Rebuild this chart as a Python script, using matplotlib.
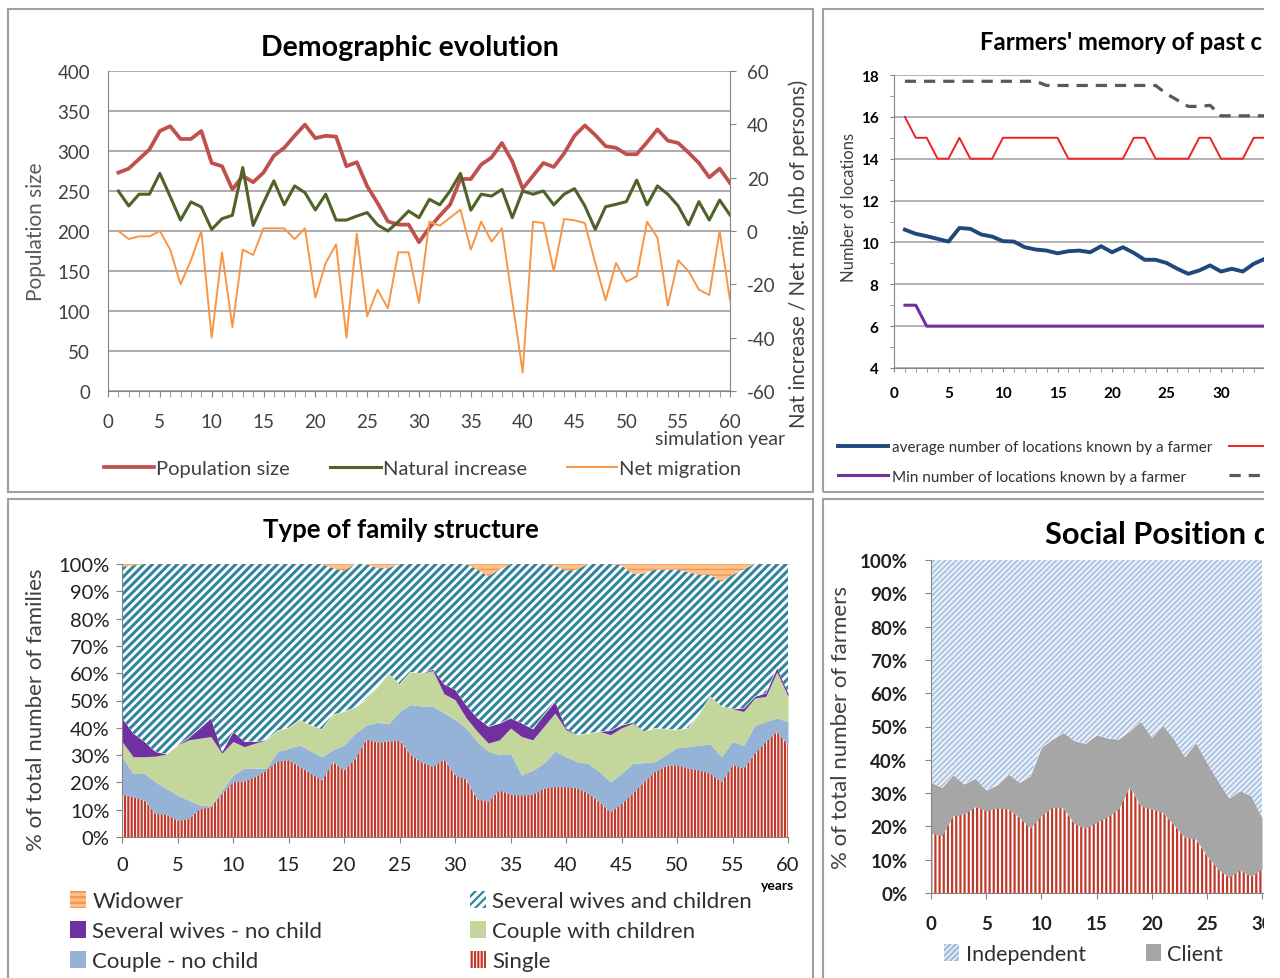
import numpy as np
import matplotlib
matplotlib.use("Agg")
import matplotlib.pyplot as plt
from matplotlib.patches import Rectangle, Patch

plt.rcParams['font.family'] = ['Lato', 'DejaVu Sans']
plt.rcParams['hatch.linewidth'] = 1.6
plt.rcParams['axes.unicode_minus'] = False

# ---------------- data ----------------
# Demographic evolution (simulation years 1..60)
pop_size = [273, 278, 290, 302, 325, 331, 315, 315, 325, 285,
            281, 252, 269, 261, 273, 294, 304, 319, 333, 316,
            319, 318, 281, 286, 256, 235, 212, 208, 208, 186,
            204, 219, 233, 265, 265, 283, 292, 310, 287, 253,
            269, 285, 280, 297, 319, 332, 320, 306, 304, 296,
            296, 311, 327, 313, 310, 298, 285, 267, 278, 260]
nat_increase = [15, 9.4, 13.8, 13.8, 21.6, 12.9, 4.1, 10.9, 9, 0.6,
                4.6, 5.9, 23.8, 2.1, 10.6, 18.8, 9.8, 16.9, 14.4, 7.9,
                13.8, 4.1, 4.1, 5.6, 6.9, 2.3, 0, 3.5, 7.5, 5,
                11.9, 9.8, 15, 21.6, 7.8, 13.8, 13.1, 15.6, 5, 15,
                13.8, 15, 9.8, 13.8, 15.9, 9.4, 0.6, 9.1, 10, 11,
                19.1, 9.8, 16.9, 13.8, 9.4, 2.3, 11, 4.1, 11.6, 6]
net_migration = [0, -3, -2, -2, 0, -7, -20, -11, 0, -40,
                 -8, -36, -7, -9, 1, 1, 1, -3, 1, -25,
                 -12, -5, -40, -1, -32, -22, -29, -8, -8, -27,
                 3.5, 2, 5, 8, -7, 3.5, -4, 1, -26, -53,
                 3.5, 3, -15, 4.5, 4, 3, -12, -26, -12, -19,
                 -17, 3.5, -2.5, -28, -11, -15, -22, -24, 0, -26]

# Farmers' memory (visible years 1..34)
mem_avg = [10.61, 10.41, 10.30, 10.17, 10.04, 10.69, 10.65, 10.38, 10.28, 10.06,
           10.04, 9.77, 9.66, 9.61, 9.48, 9.58, 9.61, 9.53, 9.82, 9.53,
           9.77, 9.50, 9.17, 9.17, 9.02, 8.74, 8.50, 8.66, 8.90, 8.61,
           8.74, 8.61, 8.98, 9.21]
mem_red = [16, 15, 15, 14, 14, 15, 14, 14, 14, 15,
           15, 15, 15, 15, 15, 14, 14, 14, 14, 14,
           14, 15, 15, 14, 14, 14, 14, 15, 15, 14,
           14, 14, 15, 15]
mem_min = [7, 7, 6, 6, 6, 6, 6, 6, 6, 6,
           6, 6, 6, 6, 6, 6, 6, 6, 6, 6,
           6, 6, 6, 6, 6, 6, 6, 6, 6, 6,
           6, 6, 6, 6]
mem_dash = [17.7, 17.7, 17.7, 17.7, 17.7, 17.7, 17.7, 17.7, 17.7, 17.7,
            17.7, 17.7, 17.7, 17.5, 17.5, 17.5, 17.5, 17.5, 17.5, 17.5,
            17.5, 17.5, 17.5, 17.5, 17.1, 16.8, 16.5, 16.5, 16.55, 16.05,
            16.05, 16.05, 16.05, 16.05]

# Type of family structure, % (years 0..60)
single = [15.6, 14.7, 13.5, 8.6, 8.2, 6.1, 6.7, 10.4, 11.0, 16.0,
          20.2, 20.4, 22.1, 24.5, 27.8, 28.2, 25.8, 23.3, 20.9, 27.6,
          24.5, 28.8, 35.8, 34.7, 35.0, 35.5, 30.1, 27.4, 25.8, 28.6,
          22.7, 21.2, 13.9, 13.1, 17.2, 15.6, 15.3, 15.6, 17.8, 18.4,
          18.4, 18.0, 16.0, 12.9, 9.2, 12.3, 16.0, 20.2, 23.9, 26.1,
          26.4, 25.2, 24.5, 23.3, 20.2, 26.4, 25.2, 30.7, 35.0, 38.7, 33.7]
couple_no_child = [13.8, 8.6, 9.8, 11.6, 9.6, 9.2, 6.8, 1.3, 0.4, 1.0,
                   2.5, 4.8, 3.1, 0.7, 3.5, 4.3, 7.9, 8.2, 8.5, 4.4,
                   9.2, 9.2, 5.2, 7.3, 6.5, 10.5, 18.4, 20.6, 22.1, 16.9,
                   20.3, 18.7, 21.1, 18.2, 12.9, 15.0, 7.4, 8.9, 9.2, 13.1,
                   11.0, 9.6, 11.0, 11.0, 11.0, 11.0, 11.0, 7.0, 3.7, 4.0,
                   6.4, 7.9, 9.2, 10.7, 9.2, 8.6, 8.3, 10.2, 7.3, 4.9, 8.6]
couple_children = [5.6, 6.1, 6.1, 9.4, 12.6, 18.4, 22.1, 24.5, 25.4, 13.7,
                   12.3, 7.9, 9.2, 10.4, 7.7, 7.5, 9.3, 9.5, 10.1, 12.8,
                   12.3, 9.5, 9.5, 13.0, 18.5, 10.0, 12.0, 12.0, 13.1, 7.0,
                   7.3, 3.8, 3.7, 3.1, 5.5, 9.3, 14.1, 11.1, 13.5, 13.9,
                   9.9, 9.8, 11.0, 14.8, 17.3, 16.7, 14.7, 11.5, 12.3, 9.5,
                   6.5, 6.8, 11.7, 17.5, 18.5, 12.0, 12.5, 10.0, 9.2, 16.9, 9.2]
wives_no_child = [8.6, 8.6, 5.6, 1.7, 0, 0, 0.8, 3.7, 6.8, 0.6,
                  3.6, 1.9, 0.6, 0, 0, 0, 0, 0, 0, 0,
                  0, 0, 0, 0, 0, 0, 0, 0, 0.5, 3.5,
                  3.7, 4.6, 4.9, 6.1, 6.1, 3.7, 4.9, 4.0, 4.3, 4.3,
                  0.6, 0, 0, 0, 1.5, 1.0, 0.3, 0, 0, 0,
                  0, 0, 0, 0, 0, 0, 1.2, 0.6, 1.3, 1.5, 1.3]
wives_children = [55.4, 61.5, 65.0, 68.7, 69.6, 66.3, 63.6, 60.1, 56.4, 68.7,
                  61.4, 65.0, 65.0, 64.4, 61.0, 60.0, 57.0, 59.0, 60.5, 53.7,
                  51.5, 52.5, 49.5, 43.5, 38.5, 44.0, 39.5, 40.0, 38.5, 44.0,
                  46.0, 51.7, 54.4, 55.0, 56.3, 56.4, 58.3, 60.4, 55.2, 49.8,
                  57.6, 60.6, 62.0, 61.3, 61.0, 58.5, 54.5, 57.8, 58.1, 58.4,
                  58.7, 57.1, 50.6, 44.5, 45.6, 49.0, 50.8, 48.5, 47.2, 38.0, 47.2]
widower = [1.0, 0.5, 0, 0, 0, 0, 0, 0, 0, 0,
           0, 0, 0, 0, 0, 0, 0, 0, 0, 1.5,
           2.5, 0, 0, 1.5, 1.5, 0, 0, 0, 0, 0,
           0, 0, 2.0, 4.5, 2.0, 0, 0, 0, 0, 0.5,
           2.5, 2.0, 0, 0, 0, 0.5, 3.5, 3.5, 2.0, 2.0,
           2.0, 3.0, 4.0, 4.0, 6.5, 4.0, 2.0, 0, 0, 0, 0]

# Social position, % (visible years 0..30)
social_red = [18.0, 17.2, 23.2, 23.7, 25.9, 24.7, 25.5, 25.2, 22.7, 19.5,
              23.2, 25.7, 25.5, 20.7, 19.5, 21.2, 22.9, 25.2, 31.9, 26.2,
              25.2, 24.2, 20.5, 16.7, 16.2, 11.2, 7.2, 4.7, 6.9, 5.0, 7.2]
client = [15.2, 14.5, 12.3, 9.0, 8.6, 6.2, 7.0, 10.5, 10.5, 15.7,
          20.5, 20.5, 22.7, 25.0, 25.4, 26.3, 23.6, 21.0, 16.8, 25.3,
          21.5, 26.3, 25.7, 24.2, 29.0, 28.0, 26.5, 23.8, 23.8, 24.2, 15.5]
independent = [66.8, 68.3, 64.5, 67.3, 65.5, 69.1, 67.5, 64.3, 66.8, 64.8,
               56.3, 53.8, 51.8, 54.3, 55.1, 52.5, 53.5, 53.8, 51.3, 48.5,
               53.3, 49.5, 53.8, 59.1, 54.8, 60.8, 66.3, 71.5, 69.3, 70.8, 77.3]

W, H = 1280, 979
GRID = '#a6a6a6'
AXC = '#868686'
TXT = '#404040'
CUT_X = 1264  # the source picture stops here

fig = plt.figure(figsize=(W / 100, H / 100), dpi=100)


def frame(x0, y0, x1, y1):
    fig.add_artist(Rectangle((x0 / W, 1 - y1 / H), (x1 - x0) / W, (y1 - y0) / H,
                             transform=fig.transFigure, fill=False,
                             edgecolor='#a0a0a0', linewidth=1.5, zorder=0))


frame(8, 10, 813, 493)
frame(823, 10, 1700, 493)
frame(8, 500, 813, 1010)
frame(823, 500, 1700, 1010)


def style_axes(ax):
    for s in ['top', 'right']:
        ax.spines[s].set_visible(False)
    for s in ['left', 'bottom']:
        ax.spines[s].set_color(AXC)
    ax.tick_params(which='both', color=AXC, direction='out')


def visible_labels(ticks, last):
    return [str(v) if v <= last else '' for v in ticks]


# ---------- panel 1: demographic evolution ----------
ax1 = fig.add_axes([108 / W, 1 - 392 / H, 622 / W, 320 / H])
yrs = np.arange(1, 61)
style_axes(ax1)
ax1.set_xlim(0, 60)
ax1.set_ylim(0, 400)
ax1.set_yticks(range(0, 401, 50))
ax1.set_xticks(range(0, 61, 5))
ax1.set_xticks(range(0, 61), minor=True)
ax1.yaxis.grid(True, color=GRID, linewidth=1.3)
ax1.set_axisbelow(True)
ax1.tick_params(axis='both', labelsize=13.5, labelcolor=TXT, length=4)
ax1.tick_params(axis='x', which='minor', length=4)
ax1.tick_params(axis='x', pad=12)
ax1.tick_params(axis='y', length=0, pad=13)
l_pop, = ax1.plot(yrs, pop_size, color='#c0504d', linewidth=2.7)
ax1.set_ylabel('Population size', fontsize=15, color='#595959', labelpad=8)

ax1b = ax1.twinx()
ax1b.set_ylim(-60, 60)
ax1b.set_yticks(range(-60, 61, 20))
for s in ['top', 'left', 'bottom']:
    ax1b.spines[s].set_visible(False)
ax1b.spines['right'].set_color(AXC)
ax1b.tick_params(axis='y', labelsize=13.5, labelcolor=TXT, color=AXC, length=4, pad=8)
l_nat, = ax1b.plot(yrs, nat_increase, color='#4f6228', linewidth=2.2)
l_mig, = ax1b.plot(yrs, net_migration, color='#f79646', linewidth=1.4)
ax1b.set_ylabel('Nat increase / Net mig. (nb of persons)', fontsize=14.8,
                color='#404040')
ax1b.yaxis.set_label_coords(1.094, 0.43)

fig.text(410 / W, 1 - 48 / H, 'Demographic evolution', ha='center', va='center',
         fontsize=20.5, fontweight='bold')
fig.text(785 / W, 1 - 440 / H, 'simulation year', ha='right', va='center',
         fontsize=14, color=TXT)
fig.legend([l_pop, l_nat, l_mig], ['Population size', 'Natural increase', 'Net migration'],
           loc='center left', bbox_to_anchor=(104 / W, 1 - 469 / H), ncol=3, frameon=False,
           fontsize=14.5, handlelength=2.5, handletextpad=0.1, columnspacing=2.0,
           borderpad=0, borderaxespad=0, labelcolor=TXT)

# ---------- panel 2: farmers' memory ----------
ax2 = fig.add_axes([894 / W, 1 - 369 / H, 654 / W, 293 / H])
yrs2 = np.arange(1, len(mem_avg) + 1)
style_axes(ax2)
ax2.set_xlim(0, 60)
ax2.set_ylim(4, 18)
ax2.set_yticks(range(4, 19, 2))
ax2.set_yticks(range(5, 18, 2), minor=True)
ax2.set_xticks(range(0, 61, 5), labels=visible_labels(range(0, 61, 5), 30))
ax2.set_xticks(range(0, 61), minor=True)
ax2.yaxis.grid(True, color=GRID, linewidth=1.2)
ax2.set_axisbelow(True)
ax2.tick_params(axis='both', which='both', length=3)
ax2.tick_params(axis='both', labelsize=11)
for lab in ax2.get_xticklabels() + ax2.get_yticklabels():
    lab.set_fontweight('bold')
ax2.tick_params(axis='y', pad=8)
ax2.tick_params(axis='x', pad=10)
ax2.set_ylabel('Number of locations', fontsize=12, color='#404040')
ax2.yaxis.set_label_coords(-0.057, 0.55)

l_dash, = ax2.plot(yrs2, mem_dash, color='#595959', linewidth=2.3, dashes=(3.5, 2.5))
l_red, = ax2.plot(yrs2, mem_red, color='#ee2222', linewidth=1.4)
l_avg, = ax2.plot(yrs2, mem_avg, color='#1f497d', linewidth=2.8)
l_min, = ax2.plot(yrs2, mem_min, color='#7030a0', linewidth=2.2)

fig.text(980 / W, 1 - 42 / H, "Farmers' memory of past c", ha='left', va='center',
         fontsize=17.2, fontweight='bold')
fig.legend([l_avg, l_min, l_red, l_dash],
           ['average number of locations known by a farmer',
            'Min number of locations known by a farmer', '', ''],
           loc='center left', bbox_to_anchor=(838 / W, 1 - 463 / H), ncol=2,
           frameon=False, fontsize=11, handlelength=3.3, handletextpad=0.25,
           columnspacing=1.1, labelspacing=1.0, borderpad=0, borderaxespad=0,
           labelcolor='#303030')

# ---------- panel 3: family structure ----------
ax3 = fig.add_axes([122 / W, 1 - 838 / H, 666 / W, 273 / H])
yrs3 = np.arange(0, 61)
style_axes(ax3)
ax3.set_xlim(0, 60)
ax3.set_ylim(0, 100)
ax3.set_yticks(range(0, 101, 10))
ax3.set_yticklabels([f'{v}%' for v in range(0, 101, 10)])
ax3.set_xticks(range(0, 61, 5))
ax3.tick_params(axis='both', labelsize=14.5, labelcolor='#202020', length=4)
ax3.tick_params(axis='x', pad=10)
ax3.tick_params(axis='y', pad=5)

layers3 = [
    (single, 'Single', 'white', '#c0392b', '|||||', 1.6),
    (couple_no_child, 'Couple - no child', '#95b3d7', '#95b3d7', None, 1.6),
    (couple_children, 'Couple with children', '#c3d69b', '#c3d69b', None, 1.6),
    (wives_no_child, 'Several wives - no child', '#7030a0', '#7030a0', None, 1.6),
    (wives_children, 'Several wives and children', 'white', '#31849b', '////', 2.2),
    (widower, 'Widower', '#fac090', '#f79646', '---', 1.0),
]
base = np.zeros(len(yrs3))
handles3 = {}
for vals, name, fc, ec, hatch, hlw in layers3:
    top = base + np.array(vals)
    with plt.rc_context({'hatch.linewidth': hlw}):
        ax3.fill_between(yrs3, base, top, facecolor=fc, edgecolor=ec, hatch=hatch,
                         linewidth=0)
        handles3[name] = Patch(facecolor=fc, edgecolor=ec, hatch=hatch, linewidth=0)
    base = top
ax3.set_ylabel('% of total number of families', fontsize=16, color='#404040')
ax3.yaxis.set_label_coords(-0.114, 0.47)

fig.text(401 / W, 1 - 530 / H, 'Type of family structure', ha='center', va='center',
         fontsize=18.5, fontweight='bold')
fig.text(778 / W, 1 - 886 / H, 'years', ha='center', va='center', fontsize=10,
         fontweight='bold')
order3 = ['Widower', 'Several wives - no child', 'Couple - no child',
          'Several wives and children', 'Couple with children', 'Single']
fig.legend([handles3[n] for n in order3], order3, loc='center left',
           bbox_to_anchor=(70 / W, 1 - 932 / H), ncol=2, frameon=False,
           fontsize=16, handlelength=0.7, handleheight=0.8, handletextpad=0.3,
           columnspacing=6.65, labelspacing=0.45, borderpad=0, borderaxespad=0,
           labelcolor='#303030')

# ---------- panel 4: social position ----------
ax4 = fig.add_axes([931 / W, 1 - 894 / H, 662 / W, 333 / H])
yrs4 = np.arange(0, len(client))
style_axes(ax4)
ax4.set_xlim(0, 60)
ax4.set_ylim(0, 100)
ax4.set_yticks(range(0, 101, 10))
ax4.set_yticklabels([f'{v}%' for v in range(0, 101, 10)])
ax4.set_xticks(range(0, 61, 5), labels=visible_labels(range(0, 61, 5), 30))
ax4.tick_params(axis='both', labelsize=13.5, labelcolor='#202020', length=4)
ax4.tick_params(axis='y', pad=13)
ax4.tick_params(axis='x', pad=12)
for lab in ax4.get_xticklabels() + ax4.get_yticklabels():
    lab.set_fontweight('bold')

layers4 = [
    (social_red, None, 'white', '#c0392b', '||||', 1.6),
    (client, 'Client', '#a6a6a6', '#a6a6a6', None, 1.6),
    (independent, 'Independent', '#e6eef8', '#9fb9dd', '//////', 1.0),
]
base = np.zeros(len(yrs4))
handles4 = {}
for vals, name, fc, ec, hatch, hlw in layers4:
    top = base + np.array(vals)
    with plt.rc_context({'hatch.linewidth': hlw}):
        ax4.fill_between(yrs4, base, top, facecolor=fc, edgecolor=ec, hatch=hatch,
                         linewidth=0)
        if name:
            handles4[name] = Patch(facecolor=fc, edgecolor=ec, hatch=hatch, linewidth=0)
    base = top
ax4.set_ylabel('% of total number of farmers', fontsize=16, color='#404040', labelpad=6)

fig.text(1045 / W, 1 - 535 / H, 'Social Position d', ha='left', va='center',
         fontsize=22.2, fontweight='bold')
fig.legend([handles4['Independent'], handles4['Client']], ['Independent', 'Client'],
           loc='center left', bbox_to_anchor=(944 / W, 1 - 955 / H), ncol=2,
           frameon=False, fontsize=15.5, handlelength=0.7, handleheight=0.8,
           handletextpad=0.3, columnspacing=2.8, borderpad=0, borderaxespad=0,
           labelcolor='#303030')

# cover what lies beyond the right edge of the source picture
fig.add_artist(Rectangle((CUT_X / W, 0), 1, 1, transform=fig.transFigure,
                         facecolor='white', edgecolor='none', zorder=50))

fig.savefig('out.png', dpi=100)
